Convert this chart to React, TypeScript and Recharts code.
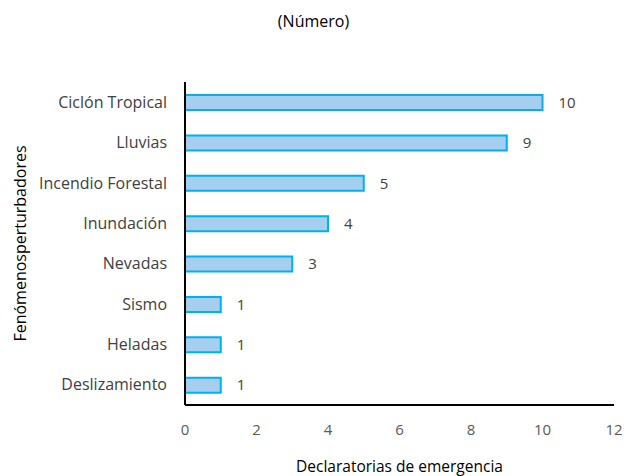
import { BarChart, Bar, XAxis, YAxis, LabelList } from 'recharts';

const categories = [
  'Ciclón Tropical',
  'Lluvias',
  'Incendio Forestal',
  'Inundación',
  'Nevadas',
  'Sismo',
  'Heladas',
  'Deslizamiento',
];
const declaratorias = [10, 9, 5, 4, 3, 1, 1, 1];
const xTicks = [0, 2, 4, 6, 8, 10, 12];

const data = categories.map((name, i) => ({ name, value: declaratorias[i] }));

const font = '"Open Sans", sans-serif';

export default function App() {
  return (
    <div style={{ position: 'absolute', left: 0, top: 0, width: 627, height: 476, background: '#fff', fontFamily: font }}>
      <div style={{ position: 'absolute', top: 10, width: 627, textAlign: 'center', fontSize: 16, color: '#000' }}>
        (Número)
      </div>
      <BarChart
        width={627}
        height={476}
        data={data}
        layout="vertical"
        margin={{ top: 82, right: 13, left: 0, bottom: 0 }}
      >
        <XAxis
          type="number"
          domain={[0, 12]}
          ticks={xTicks}
          height={71}
          tickLine={false}
          tickSize={0}
          tickMargin={19}
          axisLine={{ stroke: '#000', strokeWidth: 2 }}
          tick={{ fill: '#595959', fontSize: 15, fontFamily: font }}
          label={{ value: 'Declaratorias de emergencia', position: 'insideBottom', offset: 4, fill: '#000', fontSize: 15.5, fontFamily: font }}
        />
        <YAxis
          type="category"
          dataKey="name"
          width={185}
          tickLine={false}
          tickSize={0}
          tickMargin={18}
          axisLine={{ stroke: '#000', strokeWidth: 2 }}
          tick={{ fill: '#404040', fontSize: 16, fontFamily: font }}
          label={{ value: 'Fenómenosperturbadores', angle: -90, position: 'insideLeft', offset: 20, fill: '#000', fontSize: 16, fontFamily: font, style: { textAnchor: 'middle' } }}
        />
        <Bar dataKey="value" fill="#A6CEEE" stroke="#00B0F0" strokeWidth={2} barSize={15} isAnimationActive={false}>
          <LabelList dataKey="value" position="right" offset={16} fill="#404040" fontSize={15} fontFamily={font} />
        </Bar>
      </BarChart>
    </div>
  );
}
